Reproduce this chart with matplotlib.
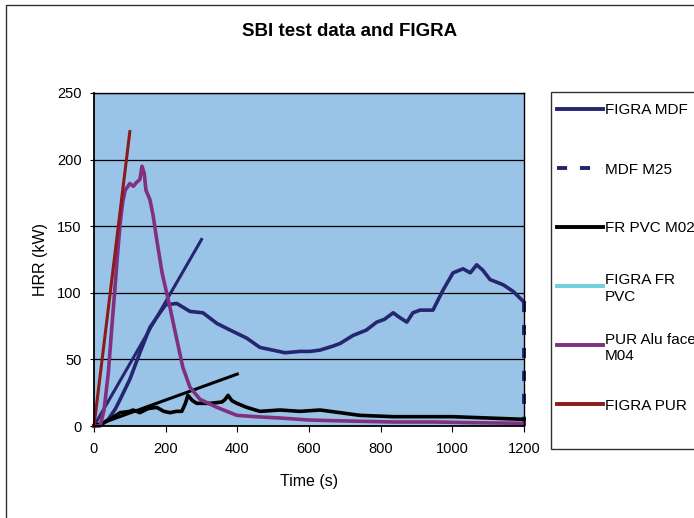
import matplotlib
matplotlib.use('Agg')
import matplotlib.pyplot as plt
from matplotlib.lines import Line2D
from matplotlib.patches import Rectangle
from matplotlib.transforms import Affine2D

plt.rcParams['font.family'] = ['Liberation Sans', 'DejaVu Sans']

# values (time in s, HRR in kW)
mdf_t = [0, 20, 40, 60, 73, 100, 128, 156, 184, 200, 231, 268, 304, 343, 380, 426, 463,
         533, 575, 603, 631, 667, 687, 723, 760, 789, 810, 835, 850, 873, 890, 910, 946,
         974, 1002, 1030, 1050, 1068, 1085, 1105, 1142, 1170, 1200]
mdf_v = [0, 1, 5, 13, 20, 35, 55, 74, 85, 91, 92, 86, 85, 77, 72, 66, 59,
         55, 56, 56, 57, 60, 62, 68, 72, 78, 80, 85, 82, 78, 85, 87, 87,
         102, 115, 118, 115, 121, 117, 110, 106, 101, 93]
mdf_end_t = [1200, 1200]
mdf_end_v = [93, 0]

pvc_t = [0, 25, 50, 73, 100, 109, 128, 150, 175, 195, 212, 230, 245, 255, 262, 275, 287,
         310, 324, 357, 366, 374, 385, 399, 426, 463, 519, 575, 631, 687, 742, 835, 900,
         1000, 1100, 1200]
pvc_v = [0, 2, 6, 10, 11, 12, 10, 13, 14, 11, 10, 11, 11, 17, 23, 19, 17,
         17, 17, 18, 20, 23, 19, 17, 14, 11, 12, 11, 12, 10, 8, 7, 7,
         7, 6, 5]

pur_t = [0, 17, 28, 40, 50, 58, 66, 73, 80, 87, 100, 110, 119, 128, 134, 140, 145, 156,
         165, 175, 190, 212, 231, 248, 268, 296, 343, 399, 450, 519, 600, 667, 750, 835,
         950, 1050, 1200]
pur_v = [0, 0, 12, 40, 75, 102, 130, 152, 168, 177, 182, 180, 183, 185, 195, 190, 177, 170,
         158, 140, 115, 89, 65, 44, 29, 20, 14, 8, 7, 6, 4.5, 4, 3.5, 3,
         3, 2.5, 2]

figra_mdf_t, figra_mdf_v = [0, 300], [0, 140]
figra_pvc_t, figra_pvc_v = [0, 400], [0, 39]
figra_pur_t, figra_pur_v = [0, 100], [0, 221]

legend_labels = ['FIGRA MDF', 'MDF M25', 'FR PVC M02', 'FIGRA FR\nPVC',
                 'PUR Alu faced\nM04', 'FIGRA PUR']

navy = '#262670'
purple = '#80307F'
darkred = '#8B1A1A'
cyan = '#6FCFDC'
dash = (0, (2.6, 3.3))
legend_colors = [navy, navy, 'black', cyan, purple, darkred]
legend_styles = ['-', dash, '-', '-', '-', '-']

W, H = 694, 518
fig = plt.figure(figsize=(W / 100, H / 100), dpi=100)
pix = Affine2D().scale(1 / W, -1 / H).translate(0, 1) + fig.transFigure

# outer chart border (runs off the right/bottom of the picture)
fig.patches.append(Rectangle((6, 5), 800, 600, transform=pix, fill=False,
                             ec='#333333', lw=1))

ax = fig.add_axes([94 / W, 1 - 426 / H, 430 / W, 333 / H])
ax.set_facecolor('#99C3E7')

lw = 2.2
ax.plot(figra_mdf_t, figra_mdf_v, color=navy, lw=lw, clip_on=False)
ax.plot(mdf_t, mdf_v, color=navy, lw=lw + 0.4, clip_on=False)
ax.plot(mdf_end_t, mdf_end_v, color=navy, lw=lw + 0.6, ls=dash, clip_on=False)
ax.plot(pvc_t, pvc_v, color='black', lw=lw + 0.4, clip_on=False)
ax.plot(figra_pvc_t, figra_pvc_v, color='black', lw=lw, clip_on=False)
ax.plot(pur_t, pur_v, color=purple, lw=lw + 0.4, clip_on=False)
ax.plot(figra_pur_t, figra_pur_v, color=darkred, lw=lw, clip_on=False)

ax.set_xlim(0, 1200)
ax.set_ylim(0, 250)
ax.set_xticks(range(0, 1201, 200))
ax.set_yticks(range(0, 251, 50))
ax.yaxis.grid(True, color='black', lw=0.9)
ax.set_axisbelow(True)
for s in ax.spines.values():
    s.set_color('black')
    s.set_linewidth(1)
ax.spines['left'].set_linewidth(1.3)
ax.spines['bottom'].set_linewidth(1.3)
ax.tick_params(axis='x', direction='out', length=4.5, pad=7, labelsize=10.5)
ax.tick_params(axis='y', direction='out', length=3, pad=6, labelsize=10.5)

ax.set_xlabel('Time (s)', fontsize=11.5)
ax.set_ylabel('HRR (kW)', fontsize=11.5)
ax.xaxis.set_label_coords(0.5, -0.145)
ax.yaxis.set_label_coords(-0.107, 0.5)

fig.text(350, 31, 'SBI test data and FIGRA', transform=pix, ha='center', va='center',
         fontsize=13.5, fontweight='bold')

# legend box in Excel style, handle aligned with the first line of each label
fig.patches.append(Rectangle((551, 92), 400, 357, transform=pix, fill=False,
                             ec='#333333', lw=1))
for i, (lab, col, st) in enumerate(zip(legend_labels, legend_colors, legend_styles)):
    y = 109 + 59 * i
    fig.lines.append(Line2D([557, 603], [y, y], transform=pix, color=col, lw=2.8, ls=st))
    fig.text(605, y, lab, transform=pix, ha='left', va='center_baseline', fontsize=11)

fig.savefig('out.png', dpi=100)
